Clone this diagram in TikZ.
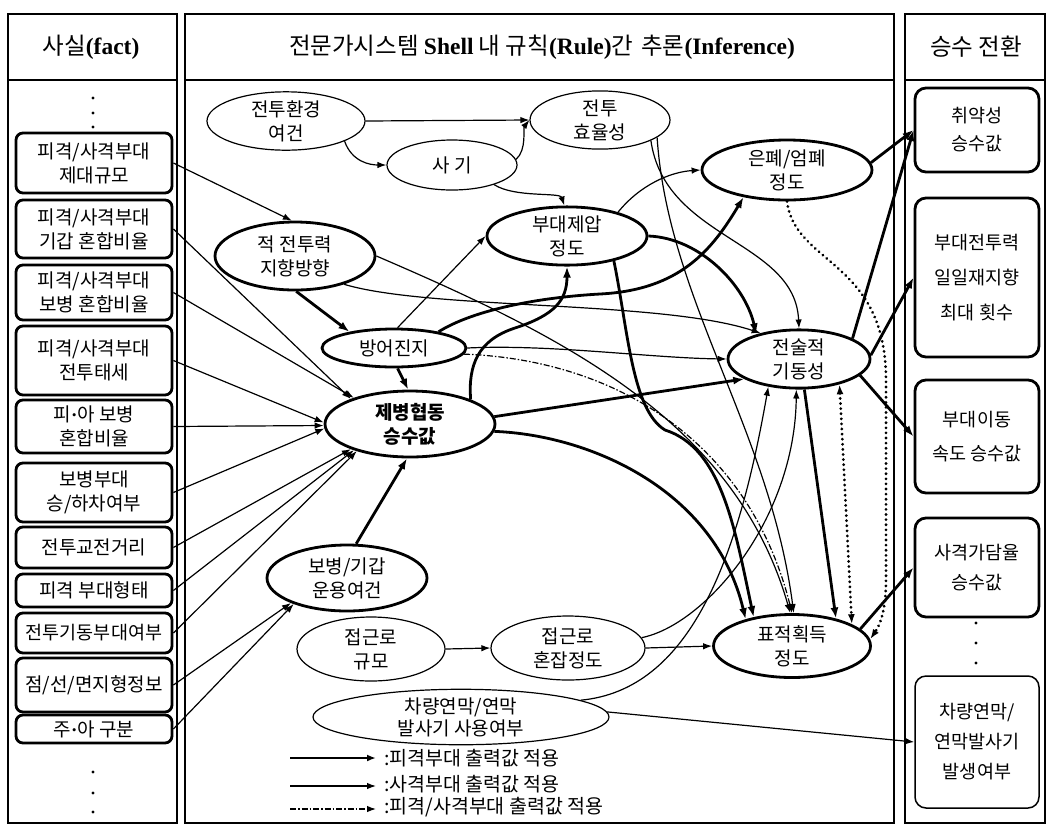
\documentclass[tikz,border=0pt]{standalone}
\usepackage{fontspec}
\setmainfont{Noto Sans CJK KR}
\newfontfamily\lat{Liberation Serif}
\usetikzlibrary{arrows.meta,shapes.geometric}
\newcommand{\mdot}{{\lat\bfseries ·}}
\begin{document}
\begin{tikzpicture}[x=1pt,y=-1pt,
  frame/.style={line width=1.1pt},
  hdr/.style={font=\fontsize{23.5}{26}\selectfont, inner sep=0pt},
  lbox/.style={draw, line width=2.8pt, rounded corners=7pt, minimum width=156pt, inner sep=0pt, align=center, font=\fontsize{19}{24}\selectfont},
  rbox/.style={draw, line width=2.8pt, rounded corners=11pt, minimum width=124pt, inner sep=0pt, align=center, font=\fontsize{18.5}{28}\selectfont},
  ell/.style={ellipse, draw, line width=1.2pt, inner sep=0pt, align=center, font=\fontsize{19}{24}\selectfont},
  tell/.style={ell, line width=2.8pt},
  edge/.style={line width=1.2pt, -{Latex[length=9pt,width=6.5pt]}},
  tedge/.style={line width=2.8pt, -{Latex[length=11pt,width=8pt]}},
  dd/.style={line width=1.2pt, dash pattern=on 6pt off 2pt on 1.5pt off 2pt, -{Latex[length=9pt,width=6.5pt]}},
  dotl/.style={line width=3pt, line cap=round, dash pattern=on 0.1pt off 5pt},
  dotn/.style={circle, fill, inner sep=0pt, minimum size=3.2pt},
  lgt/.style={anchor=west, inner sep=0pt, font=\fontsize{19.5}{21}\selectfont}
]
\useasboundingbox (0,0) rectangle (1050,831);
\fill[white] (0,0) rectangle (1050,831);

% column frames
\draw[frame] (8,14) rectangle (177,823);
\draw[frame] (8,80) -- (177,80);
\draw[frame] (185,14) rectangle (894,823);
\draw[frame] (185,80) -- (894,80);
\draw[frame] (905,14) rectangle (1045,823);
\draw[frame] (905,80) -- (1045,80);

% headers
\node[hdr] (h1) at (91,47) {사실{\lat\bfseries (fact)}};
\node[hdr] (h2) at (542,47) {전문가시스템 {\lat\bfseries Shell} 내 규칙{\lat\bfseries (Rule)}간\hspace{8pt}추론{\lat\bfseries (Inference)}};
\node[hdr] (h3) at (976,47) {승수 전환};

% left facts
\node[dotn] (ld1) at (93,98) {};
\node[dotn] (ld2) at (93,113) {};
\node[dotn] (ld3) at (93,127) {};
\node[lbox, minimum height=60pt] (L1) at (94,163) {피격/사격부대\\제대규모};
\node[lbox, minimum height=58pt] (L2) at (94,229) {피격/사격부대\\기갑 혼합비율};
\node[lbox, minimum height=55pt] (L3) at (94,292.5) {피격/사격부대\\보병 혼합비율};
\node[lbox, minimum height=69pt] (L4) at (94,360.5) {피격/사격부대\\전투태세};
\node[lbox, minimum height=53pt] (L5) at (94,426.5) {피\mdot 아 보병\\혼합비율};
\node[lbox, minimum height=59pt] (L6) at (94,492.5) {보병부대\\승/하차여부};
\node[lbox, minimum height=41pt] (L7) at (94,547.5) {전투교전거리};
\node[lbox, minimum height=33pt] (L8) at (94,590.5) {피격 부대형태};
\node[lbox, minimum height=40pt, font=\fontsize{18.5}{24}\selectfont] (L9) at (94,633) {전투기동부대여부};
\node[lbox, minimum height=54pt] (L10) at (94,685) {점/선/면지형정보};
\node[lbox, minimum height=28pt] (L11) at (94,729) {주\mdot 아 구분};
\node[dotn] (ld4) at (93,772) {};
\node[dotn] (ld5) at (93,793) {};
\node[dotn] (ld6) at (93,812) {};

% right outputs
\node[rbox, minimum height=84pt] (R1) at (977,130) {취약성\\승수값};
\node[rbox, minimum height=159pt, font=\fontsize{18.5}{35}\selectfont] (R2) at (977,277.5) {부대전투력\\일일재지향\\최대 횟수};
\node[rbox, minimum height=113pt, font=\fontsize{18.5}{34}\selectfont] (R3) at (977,436.5) {부대이동\\속도 승수값};
\node[rbox, minimum height=99pt, font=\fontsize{18.5}{30}\selectfont] (R4) at (977,567.5) {사격가담율\\승수값};
\node[dotn] (rd1) at (976,623) {};
\node[dotn] (rd2) at (976,643) {};
\node[dotn] (rd3) at (976,663) {};
\node[rbox, line width=1.5pt, minimum height=132pt, font=\fontsize{18.5}{30}\selectfont] (R5) at (977,742) {차량연막/\\연막발사기\\발생여부};

% inference nodes
\node[ell, minimum width=158pt, minimum height=52pt] (env) at (286,121) {전투환경\\여건};
\node[ell, minimum width=140pt, minimum height=54pt] (eff) at (600,120) {전투\\효율성};
\node[ell, minimum width=130pt, minimum height=50pt] (morale) at (452,165) {사 기};
\node[tell, minimum width=160pt, minimum height=68pt] (enemy) at (295,256) {적 전투력\\지향방향};
\node[tell, minimum width=160pt, minimum height=58pt] (supp) at (567,236) {부대제압\\정도};
\node[tell, minimum width=170pt, minimum height=60pt] (cover) at (787,170) {은폐/엄폐\\정도};
\node[tell, minimum width=144pt, minimum height=38pt] (def) at (394,348) {방어진지};
\node[tell, minimum width=170pt, minimum height=66pt, font=\fontsize{19}{24}\selectfont\bfseries] (comb) at (410,424) {제병협동\\승수값};
\node[tell, minimum width=142pt, minimum height=58pt] (mob) at (799,359) {전술적\\기동성};
\node[tell, minimum width=160pt, minimum height=66pt] (inf) at (347,578) {보병/기갑\\운용여건};
\node[ell, minimum width=148pt, minimum height=64pt] (appr) at (371,649) {접근로\\규모};
\node[ell, minimum width=154pt, minimum height=64pt] (cong) at (568,648) {접근로\\혼잡정도};
\node[tell, minimum width=157pt, minimum height=63pt] (tgt) at (792,646) {표적획득\\정도};
\node[ell, minimum width=296pt, minimum height=50pt, font=\fontsize{19}{22}\selectfont] (smoke) at (461,717) {차량연막/연막\\발사기 사용여부};

% facts -> inference
\draw[edge] (L1.east) -- (enemy.95);
\draw[edge] (L2.east) -- (comb.157);
\draw[edge] (L3.east) -- (comb.155);
\draw[edge] (L4.east) -- (comb.179);
\draw[edge] (L5.east) -- (comb.181);
\draw[edge] (L6.east) -- (comb.183);
\draw[edge] (L7.east) -- (comb.203);
\draw[edge] (L8.east) -- (comb.205);
\draw[edge] (L9.east) -- (comb.207);
\draw[edge] (L10.east) -- (inf.204);
\draw[edge] (L11.east) -- (inf.206);

% inference edges
\draw[edge] (env.east) -- (eff.west);
\draw[edge] (env.-19) .. controls (352,162) and (370,165) .. (morale.west);
\draw[edge] (morale.5) .. controls (527,150) and (523,128) .. (eff.west);
\draw[edge] (morale.-25) .. controls (515,198) and (560,192) .. (supp.95);
\draw[tedge] (enemy.-88) -- (def.160);
\draw[tedge] (def.-80) -- (comb.93);
\draw[edge] (def.80) -- (supp.west);
\draw[tedge] (def.20) .. controls (470,312) and (530,298) .. (600,294) .. controls (680,290) and (712,250) .. (cover.212);
\draw[tedge] (comb.22) .. controls (468,365) and (478,340) .. (515,328) .. controls (555,315) and (567,300) .. (supp.south);
\draw[edge] (supp.25) .. controls (640,185) and (670,172) .. (cover.west);
\draw[tedge] (supp.east) .. controls (700,238) and (745,285) .. (mob.150);
\draw[edge] (enemy.-30) .. controls (430,310) and (660,300) .. (mob.146);
\draw[edge] (enemy.east) .. controls (560,335) and (735,420) .. (tgt.93);
\draw[edge] (eff.-22) .. controls (665,240) and (795,240) .. (mob.north);
\draw[edge] (eff.-17) .. controls (668,300) and (770,430) .. (tgt.87);
\draw[tedge] (comb.5) -- (mob.200);
\draw[tedge] (comb.-5) .. controls (590,435) and (715,490) .. (tgt.150);
\draw[tedge] (supp.-28) .. controls (628,330) and (632,410) .. (665,430) .. controls (722,448) and (735,530) .. (tgt.143);
\draw[edge] (def.east) .. controls (550,344) and (650,358) .. (mob.west);
\draw[dd] (def.-5) .. controls (620,360) and (750,445) .. (tgt.90);
\draw[edge] (appr.east) -- (cong.west);
\draw[edge] (cong.east) -- (tgt.west);
\draw[tedge] (inf.75) -- (comb.265);
\draw[edge] (smoke.8) .. controls (690,690) and (738,560) .. (mob.222);
\draw[edge] (cong.8) .. controls (705,625) and (795,520) .. (mob.-95);
\draw[tedge] (mob.-80) -- (tgt.32);
\draw[dotl, {Latex[length=10pt,width=7pt]}-{Latex[length=10pt,width=7pt]}] (mob.-32) -- (tgt.20);
\draw[dotl, -{Latex[length=10pt,width=7pt]}] (cover.-90) .. controls (795,265) and (886,260) .. (886,380) -- (886,580) .. controls (886,610) and (880,625) .. (tgt.5);

% inference -> outputs
\draw[tedge] (cover.5) -- (R1.west);
\draw[tedge] (mob.21) -- (R1.west);
\draw[tedge] (mob.3) -- (R2.west);
\draw[tedge] (mob.-15) -- (R3.west);
\draw[tedge] (tgt.14) -- (R4.west);
\draw[edge] (smoke.2) -- (R5.west);

% legend
\coordinate (g1a) at (290,758); \coordinate (g1b) at (376,758);
\coordinate (g2a) at (290,786); \coordinate (g2b) at (376,786);
\coordinate (g3a) at (290,809); \coordinate (g3b) at (376,809);
\draw[line width=2pt, -{Latex[length=9pt,width=7pt]}] (g1a) -- (g1b);
\draw[edge] (g2a) -- (g2b);
\draw[dd] (g3a) -- (g3b);
\node[lgt] (t1) at (384,758) {:피격부대 출력값 적용};
\node[lgt] (t2) at (384,784) {:사격부대 출력값 적용};
\node[lgt] (t3) at (384,807) {:피격/사격부대 출력값 적용};
\end{tikzpicture}
\end{document}
